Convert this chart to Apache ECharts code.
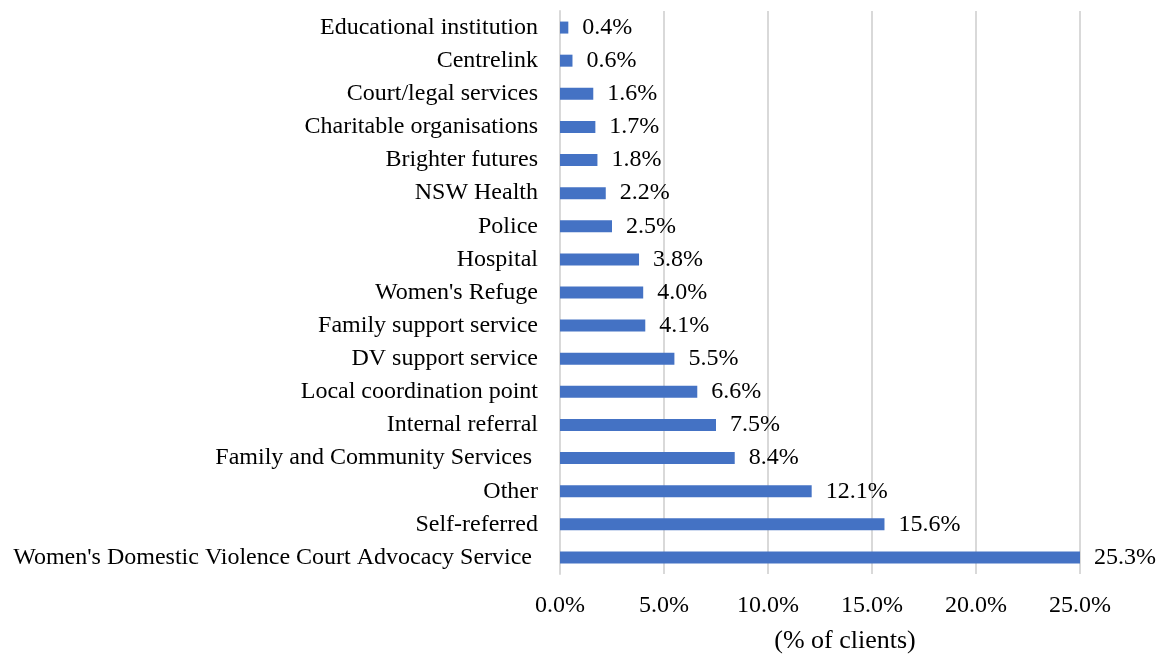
<!DOCTYPE html>
<html>
<head>
<meta charset="utf-8">
<script src="https://cdn.jsdelivr.net/npm/echarts@6/dist/echarts.min.js"></script>
<style>
  html, body { margin: 0; padding: 0; background: #fff; }
  #chart { width: 1170px; height: 654px; }
</style>
</head>
<body>
<div id="chart"></div>
<script>
// Referral sources, listed bottom to top as drawn on the category axis
const categories = [
  "Women's Domestic Violence Court Advocacy Service ",
  "Self-referred",
  "Other",
  "Family and Community Services ",
  "Internal referral",
  "Local coordination point",
  "DV support service",
  "Family support service",
  "Women's Refuge",
  "Hospital",
  "Police",
  "NSW Health",
  "Brighter futures",
  "Charitable organisations",
  "Court/legal services",
  "Centrelink",
  "Educational institution"
];
const percentClients = [25.3, 15.6, 12.1, 8.4, 7.5, 6.6, 5.5, 4.1, 4.0, 3.8, 2.5, 2.2, 1.8, 1.7, 1.6, 0.6, 0.4];
const axisTicks = [0, 5, 10, 15, 20, 25];

const FONT = '"Liberation Serif", "Times New Roman", serif';
const chart = echarts.init(document.getElementById('chart'));
chart.setOption({
  animation: false,
  textStyle: { fontFamily: FONT },
  grid: { left: 560, right: 90, top: 11, bottom: 80, outerBoundsMode: 'none', containLabel: false },
  xAxis: {
    type: 'value',
    min: axisTicks[0],
    max: axisTicks[axisTicks.length - 1],
    interval: 5,
    name: '(% of clients)',
    nameLocation: 'middle',
    nameGap: 54,
    nameTextStyle: { fontFamily: FONT, fontSize: 26, color: '#000', padding: [0, 0, 0, 50] },
    axisLine: { show: false },
    axisTick: { show: false },
    axisLabel: {
      fontFamily: FONT, fontSize: 24, color: '#000', margin: 20,
      formatter: v => v.toFixed(1) + '%'
    },
    splitLine: { lineStyle: { color: '#d9d9d9', width: 2 } }
  },
  yAxis: {
    type: 'category',
    data: categories,
    axisLine: { show: true, lineStyle: { color: '#d9d9d9', width: 2 } },
    axisTick: { show: false },
    axisLabel: { fontFamily: FONT, fontSize: 24, color: '#000', margin: 22 }
  },
  series: [{
    type: 'bar',
    data: percentClients,
    barWidth: 12,
    itemStyle: { color: '#4472C4' },
    label: {
      show: true,
      position: 'right',
      distance: 14,
      fontFamily: FONT,
      fontSize: 24,
      color: '#000',
      formatter: p => p.value.toFixed(1) + '%'
    }
  }]
});
</script>
</body>
</html>
